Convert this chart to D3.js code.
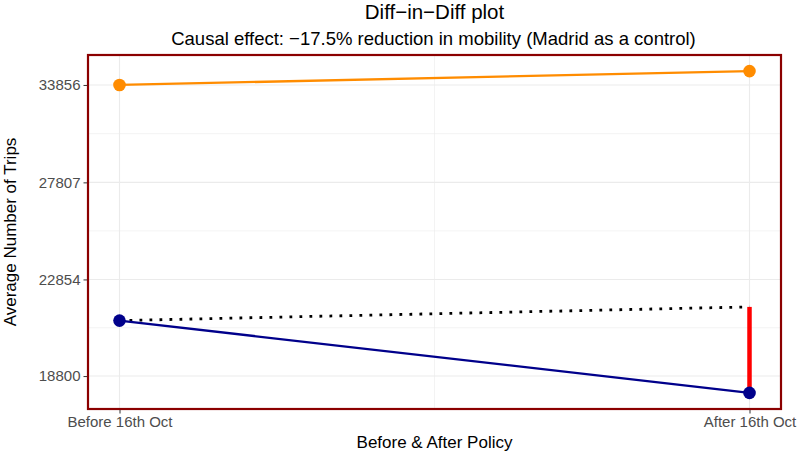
<!DOCTYPE html>
<html>
<head>
<meta charset="utf-8">
<script src="https://cdn.jsdelivr.net/npm/d3@7"></script>
<style>
  body { margin: 0; background: #fff; }
  text { font-family: "Liberation Sans", Arial, sans-serif; }
</style>
</head>
<body>
<svg id="chart" width="797" height="454"></svg>
<script>
// periods on the x axis
var periods = ["Before 16th Oct", "After 16th Oct"];
// average trips per period
var treated = [21030, 18171];       // blue
var control = [33856, 34818];       // orange
var counterfactual = [21030, 21620]; // dotted
var yTicks = [18800, 22854, 27807, 33856];

var svg = d3.select("#chart");
var margin = {left: 88, right: 16, top: 55, bottom: 45};
var W = 797, H = 454;

// log scale with 5% expansion in log space
var lo = Math.log(d3.min(treated)), hi = Math.log(d3.max(control));
var pad = (hi - lo) * 0.05;
var y = d3.scaleLog()
    .domain([Math.exp(lo - pad), Math.exp(hi + pad)])
    .range([H - margin.bottom, margin.top]);

var x = d3.scaleLinear()
    .domain([-0.05, 1.05])
    .range([margin.left, W - margin.right]);

// grid
var g = svg.append("g");
var minorY = [];
for (var i = 0; i < yTicks.length - 1; i++)
    minorY.push(Math.sqrt(yTicks[i] * yTicks[i + 1]));
g.selectAll(".minY").data(minorY).enter().append("line")
    .attr("x1", x.range()[0]).attr("x2", x.range()[1])
    .attr("y1", d => y(d)).attr("y2", d => y(d))
    .attr("stroke", "#EBEBEB").attr("stroke-width", 0.6);
g.selectAll(".majY").data(yTicks).enter().append("line")
    .attr("x1", x.range()[0]).attr("x2", x.range()[1])
    .attr("y1", d => y(d)).attr("y2", d => y(d))
    .attr("stroke", "#EBEBEB").attr("stroke-width", 1.1);
g.selectAll(".minX").data([0.5]).enter().append("line")
    .attr("x1", d => x(d)).attr("x2", d => x(d))
    .attr("y1", y.range()[0]).attr("y2", y.range()[1])
    .attr("stroke", "#EBEBEB").attr("stroke-width", 0.6);
g.selectAll(".majX").data([0, 1]).enter().append("line")
    .attr("x1", d => x(d)).attr("x2", d => x(d))
    .attr("y1", y.range()[0]).attr("y2", y.range()[1])
    .attr("stroke", "#EBEBEB").attr("stroke-width", 1.1);

var line = d3.line().x((d, i) => x(i)).y(d => y(d));

svg.append("path").datum(counterfactual)
    .attr("d", line).attr("fill", "none")
    .attr("stroke", "black").attr("stroke-width", 2.8)
    .attr("stroke-dasharray", "2.8 7.2");

svg.append("path").datum(control)
    .attr("d", line).attr("fill", "none")
    .attr("stroke", "darkorange").attr("stroke-width", 2.3);

svg.append("path").datum(treated)
    .attr("d", line).attr("fill", "none")
    .attr("stroke", "darkblue").attr("stroke-width", 2.3);

// causal effect segment
svg.append("line")
    .attr("x1", x(1)).attr("x2", x(1))
    .attr("y1", y(counterfactual[1])).attr("y2", y(treated[1]))
    .attr("stroke", "red").attr("stroke-width", 4.5);

svg.selectAll(".pc").data(control).enter().append("circle")
    .attr("cx", (d, i) => x(i)).attr("cy", d => y(d)).attr("r", 6.3)
    .attr("fill", "darkorange");
svg.selectAll(".pt").data(treated).enter().append("circle")
    .attr("cx", (d, i) => x(i)).attr("cy", d => y(d)).attr("r", 6.3)
    .attr("fill", "darkblue");

// panel border
svg.append("rect")
    .attr("x", x.range()[0]).attr("y", y.range()[1])
    .attr("width", x.range()[1] - x.range()[0])
    .attr("height", y.range()[0] - y.range()[1])
    .attr("fill", "none").attr("stroke", "#8B0000").attr("stroke-width", 2.2);

// axes
var yAxis = d3.axisLeft(y).tickValues(yTicks).tickFormat(d3.format("d"))
    .tickSize(3.5).tickPadding(3);
var ya = svg.append("g").attr("transform", "translate(" + (margin.left - 1) + ",0)").call(yAxis);
var xAxis = d3.axisBottom(x).tickValues([0, 1]).tickFormat(d => periods[d])
    .tickSize(3.5).tickPadding(3);
var xa = svg.append("g").attr("transform", "translate(0," + (H - margin.bottom + 1) + ")").call(xAxis);
[ya, xa].forEach(function (a) {
    a.select(".domain").remove();
    a.selectAll(".tick line").attr("stroke", "#333").attr("stroke-width", 1);
    a.selectAll(".tick text").attr("fill", "#4D4D4D").style("font-size", "15px")
        .style("font-family", "Liberation Sans, Arial, sans-serif");
});

var cx = (x.range()[0] + x.range()[1]) / 2;
svg.append("text").attr("x", cx).attr("y", 19).attr("text-anchor", "middle")
    .style("font-size", "20.5px").text("Diff\u2212in\u2212Diff plot");
svg.append("text").attr("x", cx - 1).attr("y", 44.5).attr("text-anchor", "middle")
    .style("font-size", "18.5px")
    .text("Causal effect: \u221217.5% reduction in mobility (Madrid as a control)");
svg.append("text").attr("x", cx).attr("y", 448).attr("text-anchor", "middle")
    .style("font-size", "17px").text("Before & After Policy");
svg.append("text")
    .attr("transform", "translate(16," + ((y.range()[0] + y.range()[1]) / 2) + ") rotate(-90)")
    .attr("text-anchor", "middle")
    .style("font-size", "17px").text("Average Number of Trips");
</script>
</body>
</html>
